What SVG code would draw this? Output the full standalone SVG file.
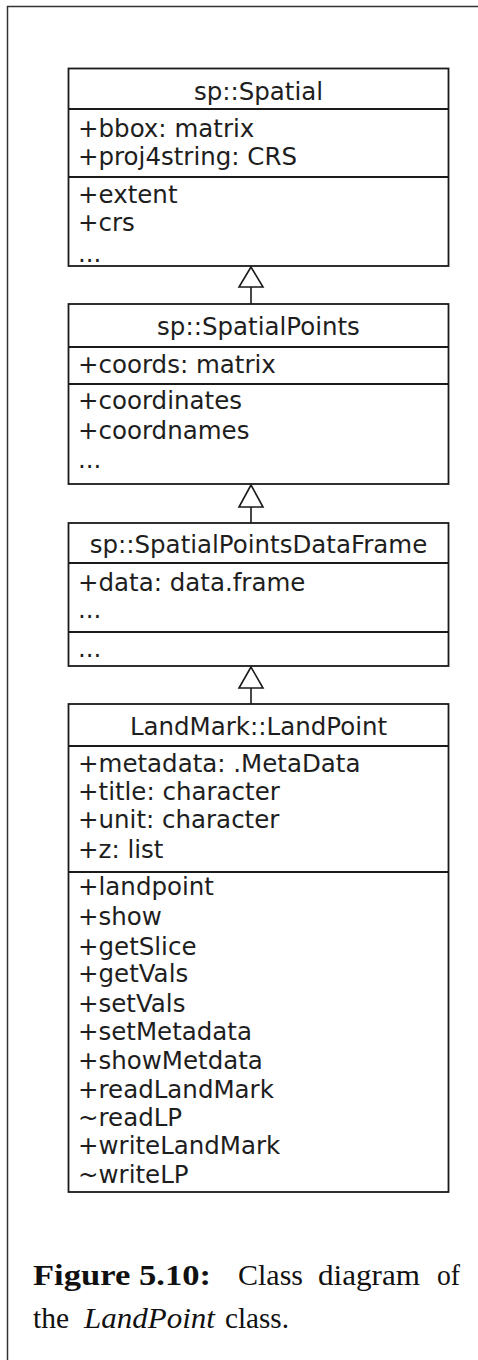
<svg xmlns="http://www.w3.org/2000/svg" width="478" height="1360" viewBox="0 0 478 1360">
<style>
.box{fill:#fff;stroke:#1a1a1a;stroke-width:1.8}
.div{stroke:#1a1a1a;stroke-width:1.8}
.t{font-family:"DejaVu Sans",Verdana,sans-serif;font-size:24.5px;fill:#1e1e1e}
.c{text-anchor:middle}
.cap{font-family:"Liberation Serif","Times New Roman",serif;font-size:30px;fill:#111}
.conn{stroke:#1a1a1a;stroke-width:1.6;fill:none}
.tri{fill:#fff;stroke:#1a1a1a;stroke-width:1.6}
</style>
<rect x="0" y="0" width="478" height="1360" fill="#fff"/>
<path d="M7.5,1360 V6.5 H478" fill="none" stroke="#333" stroke-width="1.5"/>

<g id="connectors">
  <line class="conn" x1="251" y1="287" x2="251" y2="304"/>
  <polygon class="tri" points="251,267 239,287 263,287"/>
  <line class="conn" x1="251" y1="507" x2="251" y2="523"/>
  <polygon class="tri" points="251,485 239,507 263,507"/>
  <line class="conn" x1="251" y1="688" x2="251" y2="704"/>
  <polygon class="tri" points="251,667 239,688 263,688"/>
</g>

<g id="spatial">
  <rect class="box" x="68.5" y="68.5" width="380" height="197.5"/>
  <line class="div" x1="68.5" y1="109" x2="448.5" y2="109"/>
  <line class="div" x1="68.5" y1="177" x2="448.5" y2="177"/>
  <text class="t c" x="258.5" y="100">sp::Spatial</text>
  <text class="t" x="78" y="137">+bbox: matrix</text>
  <text class="t" x="78" y="165">+proj4string: CRS</text>
  <text class="t" x="78" y="203">+extent</text>
  <text class="t" x="78" y="231">+crs</text>
  <text class="t" x="78" y="262">...</text>
</g>

<g id="spatialpoints">
  <rect class="box" x="68.5" y="304" width="380" height="180"/>
  <line class="div" x1="68.5" y1="347" x2="448.5" y2="347"/>
  <line class="div" x1="68.5" y1="384" x2="448.5" y2="384"/>
  <text class="t c" x="258.5" y="335">sp::SpatialPoints</text>
  <text class="t" x="78" y="373">+coords: matrix</text>
  <text class="t" x="78" y="409">+coordinates</text>
  <text class="t" x="78" y="439">+coordnames</text>
  <text class="t" x="78" y="468">...</text>
</g>

<g id="spatialpointsdataframe">
  <rect class="box" x="68.5" y="523" width="380" height="143"/>
  <line class="div" x1="68.5" y1="563" x2="448.5" y2="563"/>
  <line class="div" x1="68.5" y1="632" x2="448.5" y2="632"/>
  <text class="t c" x="258.5" y="553">sp::SpatialPointsDataFrame</text>
  <text class="t" x="78" y="591">+data: data.frame</text>
  <text class="t" x="78" y="618">...</text>
  <text class="t" x="78" y="657">...</text>
</g>

<g id="landpoint">
  <rect class="box" x="68.5" y="704" width="380" height="488"/>
  <line class="div" x1="68.5" y1="746" x2="448.5" y2="746"/>
  <line class="div" x1="68.5" y1="872" x2="448.5" y2="872"/>
  <text class="t c" x="258.5" y="735">LandMark::LandPoint</text>
  <text class="t" x="78" y="772">+metadata: .MetaData</text>
  <text class="t" x="78" y="800">+title: character</text>
  <text class="t" x="78" y="828">+unit: character</text>
  <text class="t" x="78" y="858">+z: list</text>
  <text class="t" x="78" y="895">+landpoint</text>
  <text class="t" x="78" y="925">+show</text>
  <text class="t" x="78" y="955">+getSlice</text>
  <text class="t" x="78" y="982">+getVals</text>
  <text class="t" x="78" y="1012">+setVals</text>
  <text class="t" x="78" y="1040">+setMetadata</text>
  <text class="t" x="78" y="1069">+showMetdata</text>
  <text class="t" x="78" y="1098">+readLandMark</text>
  <text class="t" x="78" y="1126">~readLP</text>
  <text class="t" x="78" y="1154">+writeLandMark</text>
  <text class="t" x="78" y="1183">~writeLP</text>
</g>

<g id="caption">
  <text class="cap" x="33" y="1285" font-weight="bold" textLength="178" lengthAdjust="spacingAndGlyphs">Figure 5.10:</text>
  <text class="cap" x="238" y="1285" textLength="65" lengthAdjust="spacingAndGlyphs">Class</text>
  <text class="cap" x="318" y="1285" textLength="102" lengthAdjust="spacingAndGlyphs">diagram</text>
  <text class="cap" x="437" y="1285" textLength="23" lengthAdjust="spacingAndGlyphs">of</text>
  <text class="cap" x="33" y="1328" textLength="36" lengthAdjust="spacingAndGlyphs">the</text>
  <text class="cap" x="84" y="1328" font-style="italic" textLength="131" lengthAdjust="spacingAndGlyphs">LandPoint</text>
  <text class="cap" x="225" y="1328" textLength="64" lengthAdjust="spacingAndGlyphs">class.</text>
</g>
</svg>
